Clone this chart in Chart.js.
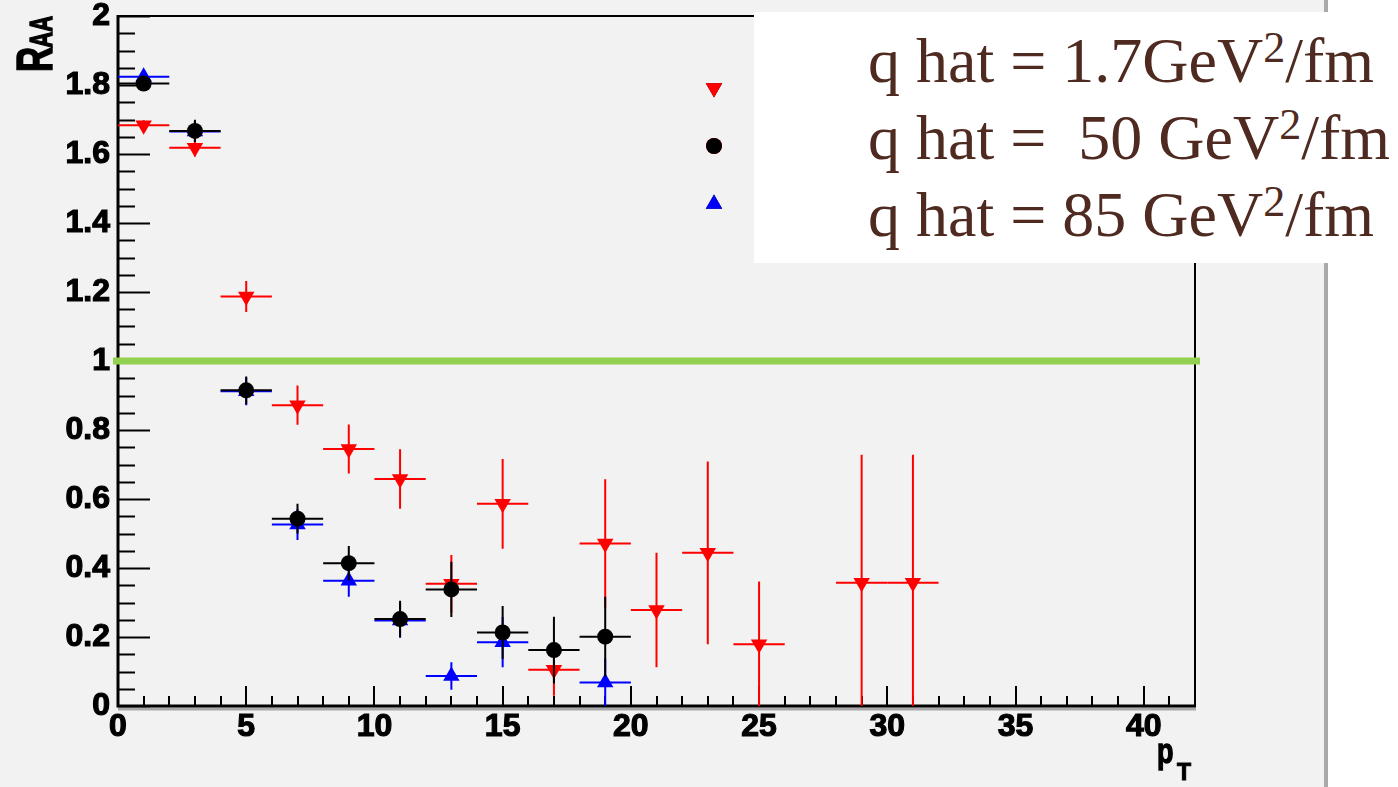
<!DOCTYPE html>
<html>
<head>
<meta charset="utf-8">
<script src="https://cdn.jsdelivr.net/npm/chart.js@4"></script>
<style>
html,body{margin:0;padding:0;background:#f2f2f2;}
#wrap{position:relative;width:1398px;height:787px;overflow:hidden;}
#strip{position:absolute;left:1328px;top:0;width:70px;height:787px;background:#fff;}
#bar{position:absolute;left:1324px;top:0;width:4px;height:787px;background:#aaaaaa;}
#chart{position:absolute;left:0;top:0;}
#box{position:absolute;left:754px;top:12px;width:644px;height:251px;background:#fff;}
#box div{position:absolute;left:114px;font-family:"Liberation Serif","Times New Roman",serif;font-size:64px;line-height:64px;color:#4f2a20;white-space:pre;}
#box .s{font-size:44px;position:relative;top:-20px;}
</style>
</head>
<body>
<div id="wrap">
  <div id="strip"></div>
  <div id="bar"></div>
  <canvas id="chart" width="1398" height="787"></canvas>
  <div id="box">
    <div style="top:17px">q hat = 1.7GeV<span class="s">2</span>/fm</div>
    <div style="top:94px">q hat =  50 GeV<span class="s">2</span>/fm</div>
    <div style="top:171px">q hat = 85 GeV<span class="s">2</span>/fm</div>
  </div>
</div>
<script>
// bin centres (pT) and R_AA, one set per q hat
const binHalfWidth = 1;

const redX   = [1, 3, 5, 7, 9, 11, 13, 15, 17, 19, 21, 23, 25, 29, 31];
const redY   = [1.683, 1.618, 1.187, 0.872, 0.745, 0.658, 0.354, 0.586, 0.105, 0.471, 0.278, 0.444, 0.179, 0.357, 0.357];
const redErr = [0.015, 0.025, 0.045, 0.057, 0.071, 0.086, 0.084, 0.13, 0.075, 0.186, 0.166, 0.265, 0.182, 0.371, 0.371];

const blackX   = [1, 3, 5, 7, 9, 11, 13, 15, 17, 19];
const blackY   = [1.804, 1.667, 0.915, 0.543, 0.414, 0.252, 0.338, 0.213, 0.162, 0.201];
const blackErr = [0.01, 0.032, 0.04, 0.043, 0.05, 0.053, 0.08, 0.077, 0.097, 0.116];

const blueX   = [1, 3, 5, 7, 9, 11, 13, 15, 19];
const blueY   = [1.824, 1.665, 0.912, 0.526, 0.363, 0.248, 0.087, 0.185, 0.068];
const blueErr = [0.01, 0.03, 0.04, 0.045, 0.046, 0.05, 0.04, 0.073, 0.07];

const refLevel = 1;

const toPoints = (xs, ys) => xs.map((x, i) => ({x: x, y: ys[i]}));

const FONT = "'Liberation Sans', Arial, Helvetica, sans-serif";

// error bars drawn under each dataset's markers
const errorBars = {
  id: 'errorBars',
  beforeDatasetDraw(chart, args) {
    const ds = chart.data.datasets[args.index];
    if (!ds.yErr) return;
    const {ctx, chartArea, scales: {x, y}} = chart;
    ctx.save();
    ctx.beginPath();
    ctx.rect(chartArea.left, chartArea.top, chartArea.width, chartArea.height);
    ctx.clip();
    ctx.strokeStyle = ds.borderColor;
    ctx.lineWidth = 2;
    ds.data.forEach((p, i) => {
      const px = x.getPixelForValue(p.x), py = y.getPixelForValue(p.y);
      ctx.beginPath();
      ctx.moveTo(x.getPixelForValue(p.x - binHalfWidth), py);
      ctx.lineTo(x.getPixelForValue(p.x + binHalfWidth), py);
      ctx.moveTo(px, y.getPixelForValue(p.y + ds.yErr[i]));
      ctx.lineTo(px, y.getPixelForValue(p.y - ds.yErr[i]));
      ctx.stroke();
    });
    ctx.restore();
  }
};

// ROOT style frame with inward ticks
const frame = {
  id: 'frame',
  beforeDatasetsDraw(chart) {
    const {ctx, chartArea: a, scales: {x, y}} = chart;
    ctx.save();
    ctx.strokeStyle = '#000';
    ctx.lineWidth = 2;
    ctx.beginPath();
    x.ticks.forEach(t => {
      if (t.value === x.min) return;
      const px = Math.round(x.getPixelForValue(t.value));
      const len = t.value % 5 === 0 ? 20 : 10;
      ctx.moveTo(px, a.bottom);
      ctx.lineTo(px, a.bottom - len);
    });
    y.ticks.forEach(t => {
      const py = Math.round(y.getPixelForValue(t.value)) + 0.5;
      const r = Math.round(t.value * 100) / 100;
      const major = Math.abs(r * 5 - Math.round(r * 5)) < 1e-6;
      ctx.moveTo(a.left, py);
      ctx.lineTo(a.left + (major ? 32 : 17), py);
    });
    ctx.stroke();
    // top and right edges
    ctx.beginPath();
    ctx.moveTo(a.left, a.top);
    ctx.lineTo(a.right, a.top);
    ctx.lineTo(a.right, a.bottom);
    ctx.stroke();
    // shadow under the x axis
    ctx.strokeStyle = '#a8a8a8';
    ctx.lineWidth = 3;
    ctx.beginPath();
    ctx.moveTo(a.left, a.bottom + 3);
    ctx.lineTo(a.right + 1, a.bottom + 3);
    ctx.stroke();
    // left and bottom axes
    ctx.strokeStyle = '#000';
    ctx.lineWidth = 3;
    ctx.beginPath();
    ctx.moveTo(a.left, a.top - 1);
    ctx.lineTo(a.left, a.bottom);
    ctx.lineTo(a.right + 1, a.bottom);
    ctx.stroke();
    ctx.restore();
  },
  afterDraw(chart) {
    const {ctx, chartArea: a, scales: {y}} = chart;
    ctx.save();
    // green reference line at R_AA = 1
    const py = y.getPixelForValue(refLevel);
    ctx.strokeStyle = '#92d050';
    ctx.lineWidth = 7;
    ctx.beginPath();
    ctx.moveTo(a.left - 5, py);
    ctx.lineTo(a.right + 5, py);
    ctx.stroke();

    // legend markers
    const lx = a.left + 596;
    Chart.helpers.drawPoint(ctx, {pointStyle: 'triangle', radius: 9.5, rotation: 180, borderWidth: 0}, lx, 88);
    ctx.fillStyle = '#ff0000'; ctx.fill();
    Chart.helpers.drawPoint(ctx, {pointStyle: 'circle', radius: 8, borderWidth: 0}, lx, 146);
    ctx.fillStyle = '#000'; ctx.fill();
    Chart.helpers.drawPoint(ctx, {pointStyle: 'triangle', radius: 9.5, rotation: 0, borderWidth: 0}, lx, 204);
    ctx.fillStyle = '#0000ff'; ctx.fill();

    // axis titles
    ctx.fillStyle = '#000';
    ctx.strokeStyle = '#000';
    ctx.lineWidth = 1;
    ctx.textBaseline = 'alphabetic';
    ctx.save();
    ctx.translate(52, 72);
    ctx.rotate(-Math.PI / 2);
    ctx.scale(1, 1.45);
    ctx.font = 'bold 35px ' + FONT;
    ctx.fillText('R', 0, 0);
    ctx.strokeText('R', 0, 0);
    const rw = ctx.measureText('R').width;
    ctx.font = 'bold 22px ' + FONT;
    ctx.fillText('AA', rw - 1, 0);
    ctx.strokeText('AA', rw - 1, 0);
    ctx.restore();

    ctx.save();
    ctx.translate(1157, 763);
    ctx.scale(1, 1.32);
    ctx.font = 'bold 27px ' + FONT;
    ctx.fillText('p', 0, 0);
    ctx.strokeText('p', 0, 0);
    ctx.restore();
    ctx.font = 'bold 23px ' + FONT;
    ctx.fillText('T', 1177, 780);
    ctx.strokeText('T', 1177, 780);
    ctx.restore();
  }
};

const tickFont = {family: FONT, size: 32, weight: 'bold'};

new Chart(document.getElementById('chart'), {
  type: 'scatter',
  data: {
    datasets: [
      {
        label: 'q hat = 50 GeV2/fm',
        data: toPoints(blackX, blackY),
        yErr: blackErr,
        pointStyle: 'circle',
        pointRadius: 8,
        borderWidth: 0,
        backgroundColor: '#000000',
        borderColor: '#000000'
      },
      {
        label: 'q hat = 85 GeV2/fm',
        data: toPoints(blueX, blueY),
        yErr: blueErr,
        pointStyle: 'triangle',
        pointRadius: 9.5,
        borderWidth: 0,
        backgroundColor: '#0000ff',
        borderColor: '#0000ff'
      },
      {
        label: 'q hat = 1.7GeV2/fm',
        data: toPoints(redX, redY),
        yErr: redErr,
        pointStyle: 'triangle',
        pointRotation: 180,
        pointRadius: 9.5,
        borderWidth: 0,
        backgroundColor: '#ff0000',
        borderColor: '#ff0000'
      }
    ]
  },
  options: {
    responsive: false,
    animation: false,
    layout: {padding: {top: 16, right: 203, left: 0, bottom: 0}},
    plugins: {legend: {display: false}, tooltip: {enabled: false}},
    scales: {
      x: {
        type: 'linear',
        min: 0,
        max: 42,
        grid: {display: false, drawTicks: false},
        border: {display: false},
        ticks: {
          stepSize: 1,
          autoSkip: false,
          maxRotation: 0,
          padding: 2,
          color: '#000',
          textStrokeColor: '#000',
          textStrokeWidth: 1.2,
          font: tickFont,
          callback: v => (v % 5 === 0 ? String(v) : '')
        },
        afterFit: s => { s.height = 81; s.paddingLeft = 0; s.paddingRight = 0; }
      },
      y: {
        min: 0,
        max: 2,
        grid: {display: false, drawTicks: false},
        border: {display: false},
        ticks: {
          stepSize: 0.05,
          autoSkip: false,
          padding: 8,
          color: '#000',
          textStrokeColor: '#000',
          textStrokeWidth: 1.2,
          font: tickFont,
          callback: v => {
            const r = Math.round(v * 100) / 100;
            return Math.abs(r * 5 - Math.round(r * 5)) < 1e-6 ? String(+r.toFixed(1)) : '';
          }
        },
        afterFit: s => { s.width = 118; s.paddingTop = 0; s.paddingBottom = 0; }
      }
    }
  },
  plugins: [errorBars, frame]
});
</script>
</body>
</html>
